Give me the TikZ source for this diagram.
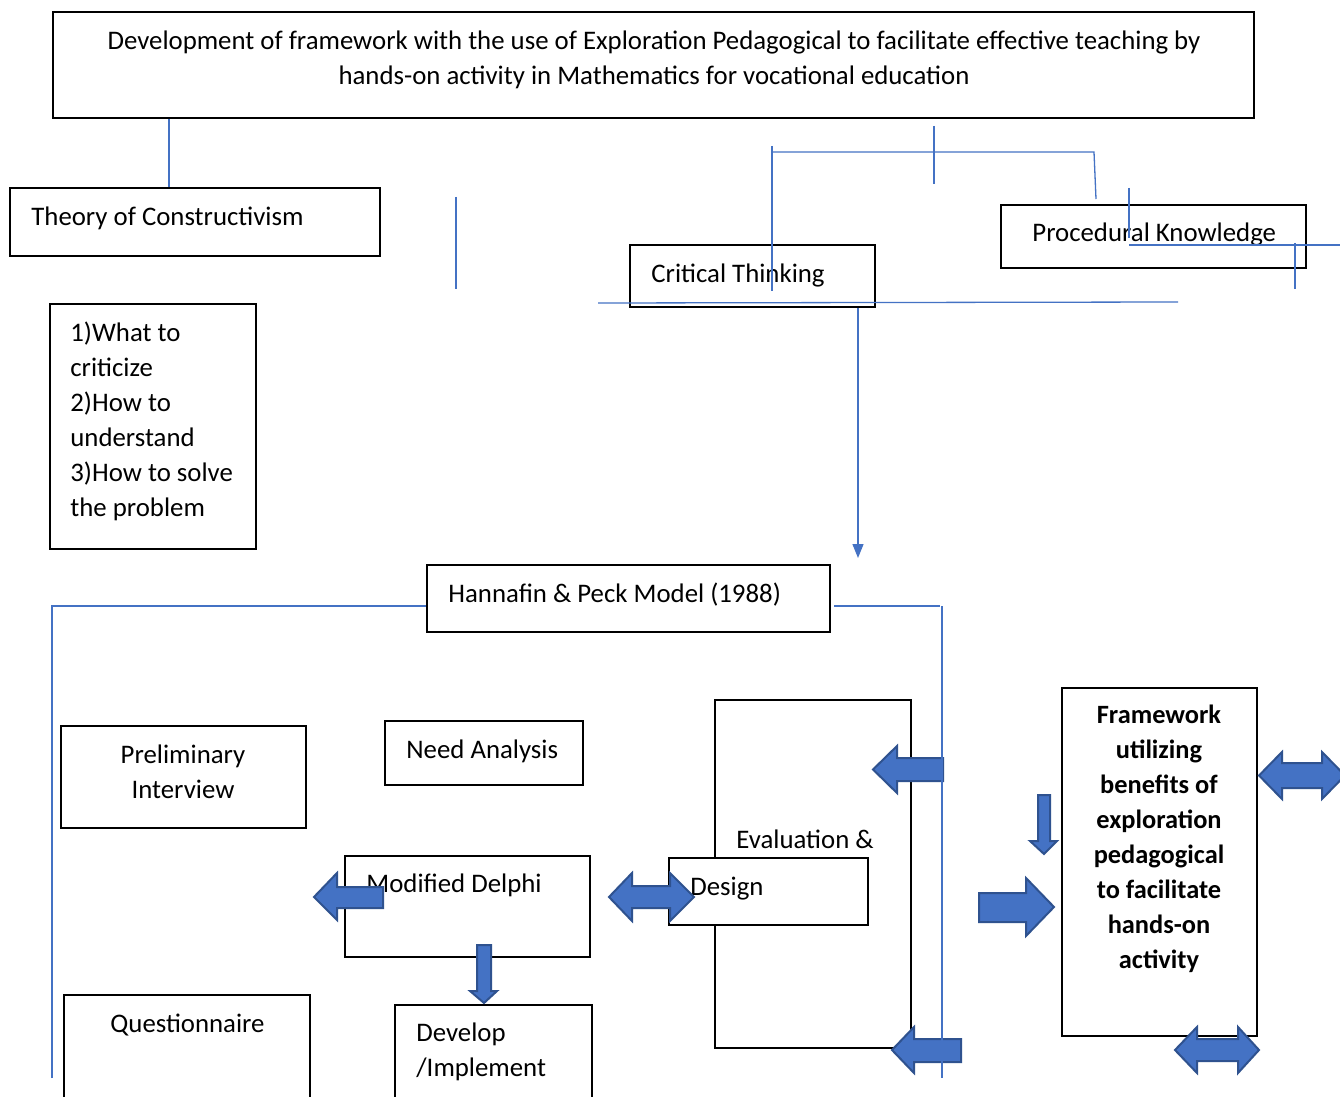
\documentclass[tikz,border=0pt]{standalone}
\usepackage{fontspec}
\setmainfont{Carlito}
\usetikzlibrary{fit,arrows.meta}
\definecolor{lineblue}{RGB}{68,114,196}
\definecolor{arrowfill}{RGB}{68,114,196}
\definecolor{arrowedge}{RGB}{47,82,143}
\begin{document}
\begin{tikzpicture}[x=0.5pt,y=-0.5pt,
  box/.style={draw=black, line width=1pt, fill=white, inner sep=0pt},
  txt/.style={inner sep=0pt, anchor=base west, font=\fontsize{13.4}{17.5}\selectfont},
  ctxt/.style={txt, anchor=base},
  btxt/.style={inner sep=0pt, anchor=base, font=\fontsize{13.2}{17.5}\selectfont\bfseries},
  link/.style={draw=lineblue, line width=0.65pt},
  blockarrow/.style={fill=arrowfill, draw=arrowedge, line width=1pt, line join=miter}]
\useasboundingbox (0,0) rectangle (1340,1097);
\clip (0,0) rectangle (1340,1097);
\fill[white] (0,0) rectangle (1340,1097);

% ---------- boxes ----------
\node[box, fit={(53,12) (1254,118)}] (title) {};
\node[ctxt] at (654,50) {Development of framework with the use of Exploration Pedagogical to facilitate effective teaching by};
\node[ctxt] at (654,85) {hands-on activity in Mathematics for vocational education};

\node[box, fit={(10,188) (380,256)}] (theory) {};
\node[txt] at (31,226) {Theory of Constructivism};

\node[box, fit={(630,245) (875,307)}] (critical) {};
\node[txt] at (651,282) {Critical Thinking};

\node[box, fit={(1001,205) (1306,268)}] (procedural) {};
\node[txt] at (1032,242) {Procedural Knowledge};

\node[box, fit={(50,304) (256,549)}] (questions) {};
\node[txt] at (70,341) {1)What to};
\node[txt] at (70,376) {criticize};
\node[txt] at (70,411) {2)How to};
\node[txt] at (70,446) {understand};
\node[txt] at (70,481) {3)How to solve};
\node[txt] at (70,516) {the problem};

\node[box, fit={(427,565) (830,632)}] (hannafin) {};
\node[txt] at (448,602) {Hannafin \& Peck Model (1988)};

\node[box, fit={(61,726) (306,828)}] (prelim) {};
\node[ctxt] at (183,763) {Preliminary};
\node[ctxt] at (183,798) {Interview};

\node[box, fit={(385,721) (583,785)}] (need) {};
\node[txt] at (406,758) {Need Analysis};

\node[box, fit={(345,856) (590,957)}] (delphi) {};
\node[txt] at (366,892) {Modified Delphi};

\node[box, fit={(64,995) (310,1130)}] (questionnaire) {};
\node[txt] at (110,1032) {Questionnaire};

\node[box, fit={(395,1005) (592,1130)}] (develop) {};
\node[txt] at (416,1041) {Develop};
\node[txt] at (416,1076) {/Implement};

\node[box, fit={(715,700) (911,1048)}] (evaluation) {};
\node[txt] at (736,848) {Evaluation \&};

\node[box, fit={(669,858) (868,925)}] (design) {};
\node[txt] at (690,895) {Design};

\node[box, fit={(1062,688) (1257,1036)}] (framework) {};
\node[btxt] at (1159,723) {Framework};
\node[btxt] at (1159,758) {utilizing};
\node[btxt] at (1159,793) {benefits of};
\node[btxt] at (1159,828) {exploration};
\node[btxt] at (1159,863) {pedagogical};
\node[btxt] at (1159,898) {to facilitate};
\node[btxt] at (1159,933) {hands-on};
\node[btxt] at (1159,968) {activity};

% ---------- block arrows ----------
% left arrow into evaluation (upper)
\draw[blockarrow] (873,769.5) -- (897,746) -- (897,758) -- (943,758) -- (943,781) -- (897,781) -- (897,793) -- cycle;
% left arrow at evaluation (bottom)
\draw[blockarrow] (892,1050) -- (914,1027) -- (914,1039) -- (961,1039) -- (961,1062) -- (914,1062) -- (914,1073) -- cycle;
% left arrow at Modified Delphi
\draw[blockarrow] (314,897) -- (337,873) -- (337,887) -- (383,887) -- (383,908) -- (337,908) -- (337,920) -- cycle;
% down arrow Delphi -> Develop
\draw[blockarrow] (477,945) -- (491,945) -- (491,991) -- (497,991) -- (484,1003) -- (470,991) -- (477,991) -- cycle;
% double arrow Delphi <-> Design
\draw[blockarrow] (609,897) -- (632,873) -- (632,886) -- (670,886) -- (670,873) -- (694,897) -- (670,921) -- (670,908) -- (632,908) -- (632,921) -- cycle;
% small down arrow
\draw[blockarrow] (1038,795) -- (1050,795) -- (1050,841) -- (1057,841) -- (1044,854) -- (1030,841) -- (1038,841) -- cycle;
% big right arrow into framework
\draw[blockarrow] (979,893) -- (1026,893) -- (1026,878) -- (1054,907) -- (1026,936) -- (1026,922) -- (979,922) -- cycle;
% double arrow right of framework
\draw[blockarrow] (1259,775.5) -- (1282,752) -- (1282,763) -- (1322,763) -- (1322,752) -- (1345,775.5) -- (1322,799) -- (1322,788) -- (1282,788) -- (1282,799) -- cycle;
% double arrow below framework
\draw[blockarrow] (1175,1050) -- (1197,1027) -- (1197,1039) -- (1238,1039) -- (1238,1027) -- (1259,1050) -- (1238,1073) -- (1238,1061) -- (1197,1061) -- (1197,1073) -- cycle;

% ---------- blue connector lines ----------
\coordinate (c169) at (169,0);
\draw[link] (c169 |- title.south) -- (c169 |- theory.north);
\coordinate (s456top) at (456,197);
\coordinate (s456bot) at (456,289);
\draw[link] (s456top) -- (s456bot);

% bracket above critical / procedural
\coordinate (ctTop) at (772,146);
\coordinate (ctBot) at (772,291);
\coordinate (brL) at (772,152);
\coordinate (brR) at (1094,152);
\coordinate (brRdown) at (1096,199);
\coordinate (midTop) at (934,126);
\coordinate (midBot) at (934,184);
\draw[link] (ctTop) -- (ctBot);
\draw[link] (brL) -- (brR) -- (brRdown);
\draw[link] (midTop) -- (midBot);

% lines at procedural knowledge
\coordinate (pkA) at (1129,188);
\coordinate (pkB) at (1129,238);
\coordinate (pkC) at (1129,245);
\coordinate (pkD) at (1345,245);
\coordinate (pkE) at (1295,243);
\coordinate (pkF) at (1295,289);
\draw[link] (pkA) -- (pkB);
\draw[link] (pkC) -- (pkD);
\draw[link] (pkE) -- (pkF);

% long horizontal under critical thinking
\coordinate (hzL) at (598,303);
\coordinate (hzR) at (1178,302);
\draw[link] (hzL) -- (hzR);

% arrow from critical thinking to Hannafin
\coordinate (ca) at (858,0);
\draw[link, -{Triangle[length=7pt,width=5.5pt]}] (ca |- critical.south) -- ([yshift=3pt]ca |- hannafin.north);

% Hannafin branches
\coordinate (hL) at (52,606);
\coordinate (hLbot) at (52,1078);
\coordinate (hR) at (940,606);
\coordinate (hRv) at (942,606);
\coordinate (hRbot) at (942,1078);
\draw[link] (hLbot) -- (hL) -- (hL -| hannafin.west);
\draw[link] ([xshift=1.5pt]hR -| hannafin.east) -- (hR);
\draw[link] (hRv) -- (hRbot);
\end{tikzpicture}
\end{document}
